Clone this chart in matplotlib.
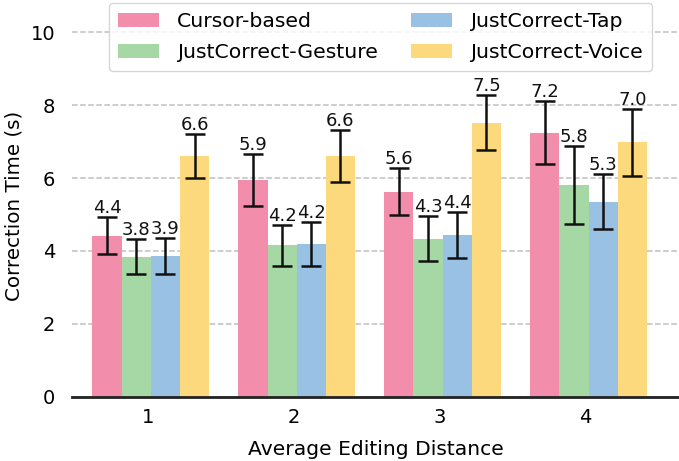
import matplotlib
matplotlib.use('Agg')
import matplotlib.pyplot as plt
import numpy as np

distances = ['1', '2', '3', '4']
techniques = ['Cursor-based', 'JustCorrect-Gesture', 'JustCorrect-Tap', 'JustCorrect-Voice']
colors = ['#F28DAC', '#A5D8A4', '#98C1E3', '#FBD97C']

cursor_mean = [4.42, 5.94, 5.63, 7.24]
gesture_mean = [3.84, 4.16, 4.34, 5.81]
tap_mean = [3.86, 4.19, 4.44, 5.35]
voice_mean = [6.60, 6.60, 7.52, 6.98]

cursor_err = [0.50, 0.72, 0.64, 0.86]
gesture_err = [0.48, 0.56, 0.62, 1.06]
tap_err = [0.50, 0.60, 0.62, 0.76]
voice_err = [0.60, 0.72, 0.76, 0.92]

means = [cursor_mean, gesture_mean, tap_mean, voice_mean]
errs = [cursor_err, gesture_err, tap_err, voice_err]

plt.rcParams['font.family'] = 'DejaVu Sans'
plt.rcParams['font.size'] = 14

fig = plt.figure(figsize=(6.79, 4.61), dpi=100)
ax = fig.add_axes([0.106, 0.139, 0.894, 0.831])

x = np.arange(len(distances))
width = 0.2
for i, (m, e) in enumerate(zip(means, errs)):
    pos = x + (i - 1.5) * width + 0.02
    ax.bar(pos, m, width, color=colors[i], label=techniques[i], zorder=2)
    ax.errorbar(pos, m, yerr=e, fmt='none', ecolor='#111111', elinewidth=1.8,
                capsize=7.5, capthick=1.8, zorder=3)
    for px, v, ev in zip(pos, m, e):
        ax.text(px, v + ev, f'{v:.1f}', ha='center', va='bottom',
                fontsize=13, color='#111111', zorder=4)

ax.set_xlim(-0.52, 3.64)
ax.set_ylim(0, 10.5)
ax.set_yticks([0, 2, 4, 6, 8, 10])
ax.set_xticks(x)
ax.set_xticklabels(distances)
ax.tick_params(length=0)
ax.tick_params(axis='y', pad=12)
ax.tick_params(axis='x', pad=8)
ax.yaxis.grid(True, linestyle='--', color='#c0c0c0', linewidth=1.1, zorder=0)
ax.set_axisbelow(True)
for side in ['top', 'right', 'left']:
    ax.spines[side].set_visible(False)
ax.spines['bottom'].set_color('#222222')
ax.spines['bottom'].set_linewidth(2)

ax.set_ylabel('Correction Time (s)', labelpad=5, fontsize=14.3)
ax.set_xlabel('Average Editing Distance', labelpad=9, fontsize=14.6)

ax.legend(loc='upper center', bbox_to_anchor=(0.508, 1.045), ncol=2,
          frameon=True, edgecolor='#cccccc', fancybox=True, fontsize=14.7,
          handlelength=2.0, handleheight=0.7, columnspacing=1.6,
          borderpad=0.45, labelspacing=0.6, handletextpad=0.9,
          borderaxespad=0.3)

fig.savefig('out.png', dpi=100)
